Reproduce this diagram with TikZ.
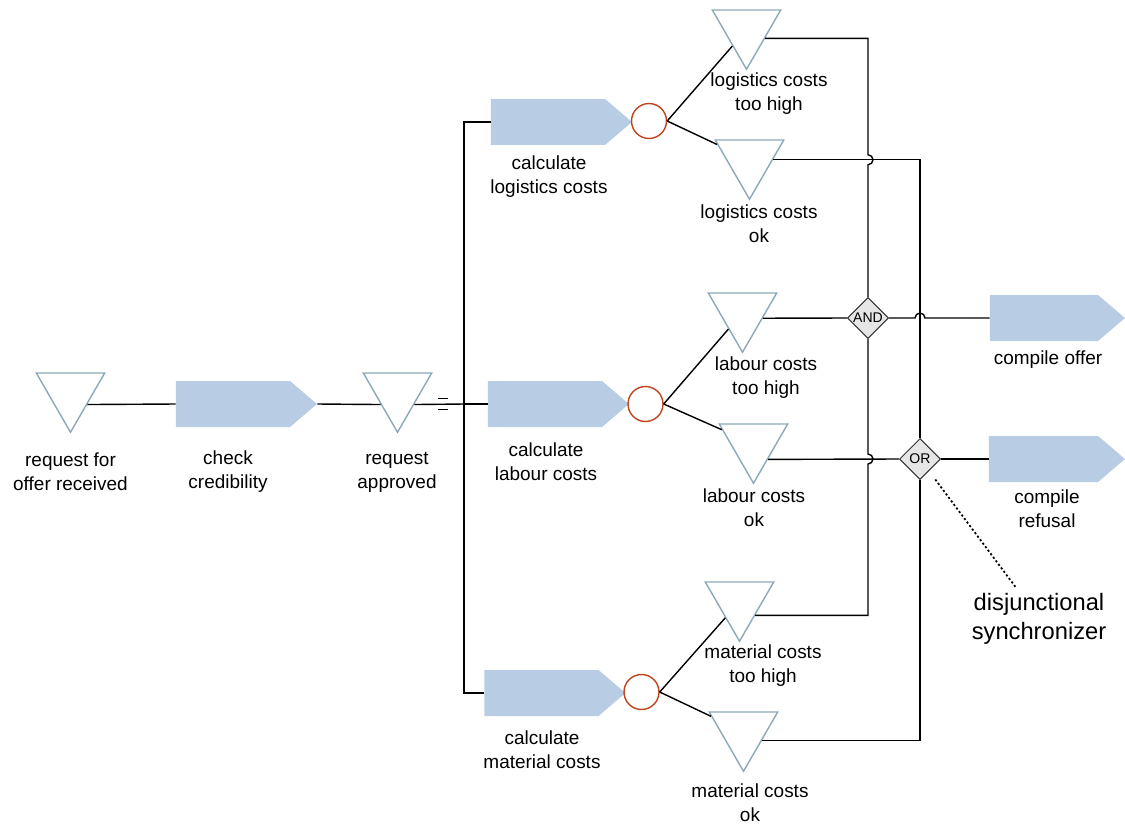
\documentclass[tikz,border=0pt]{standalone}
\usepackage{fontspec}
\setmainfont{Liberation Sans}
\usetikzlibrary{shapes.geometric,shapes.symbols,calc}

\begin{document}
\begin{tikzpicture}[x=0.02cm, y=-0.02cm,
    font=\fontsize{10.8}{13.6}\selectfont,
    event/.style={regular polygon, regular polygon sides=3, shape border rotate=180,
        draw=eventColour, line width=0.8pt, fill=white, minimum size=1.58cm, inner sep=0pt},
    func/.style={signal, signal to=east, signal pointer angle=81, fill=funcColour,
        minimum width=2.82cm, minimum height=0.92cm, inner sep=0pt},
    xor/.style={circle, draw=xorColour, line width=0.8pt, minimum size=0.7cm, inner sep=0pt},
    gate/.style={diamond, draw=gateBorder, fill=gateColour, line width=0.6pt,
        minimum size=0.82cm, inner sep=0pt, font=\fontsize{8}{9}\selectfont},
    lbl/.style={align=center},
    conn/.style={line width=0.8pt}]

    % Define colours
    \definecolor{eventColour}{HTML}{8DA9B8}
    \definecolor{funcColour}{HTML}{B8CCE4}
    \definecolor{xorColour}{HTML}{C0441E}
    \definecolor{gateColour}{HTML}{E6E6E6}
    \definecolor{gateBorder}{HTML}{333333}

    % Page size
    \useasboundingbox (0,0) rectangle (1125,825);

    % Main flow
    \node[event] (reqEvent) at (70.5,392.75) {};
    \node[lbl] at (70.5,472) {request for\\offer received};
    \node[func] (checkFunc) at (233,404) {};
    \node[lbl] at (228,472) {check\\credibility};
    \node[event] (apprEvent) at (397.5,392.75) {};
    \node[lbl] at (397,472) {request\\approved};
    \coordinate (bus) at (464,404);

    % Parallel calculations
    \node[func] (logFunc) at (548,122) {};
    \node[lbl] at (549,177) {calculate\\logistics costs};
    \node[func] (labFunc) at (545,404) {};
    \node[lbl] at (546,461.5) {calculate\\labour costs};
    \node[func] (matFunc) at (541.5,693) {};
    \node[lbl] at (542,749.5) {calculate\\material costs};

    % XOR splits
    \node[xor] (logXor) at (649,121) {};
    \node[xor] (labXor) at (645.5,404) {};
    \node[xor] (matXor) at (641.5,692) {};

    % Result events
    \node[event] (logHigh) at (746.5,29.75) {};
    \node[lbl] at (769,94) {logistics costs\\too high};
    \node[event] (logOk) at (749.5,159.75) {};
    \node[lbl] at (759,224) {logistics costs\\ok};
    \node[event] (labHigh) at (742.5,312.75) {};
    \node[lbl] at (766,378) {labour costs\\too high};
    \node[event] (labOk) at (753.5,443.75) {};
    \node[lbl] at (754,508) {labour costs\\ok};
    \node[event] (matHigh) at (739.5,601.75) {};
    \node[lbl] at (763,666) {material costs\\too high};
    \node[event] (matOk) at (743.5,731.75) {};
    \node[lbl] at (750,803) {material costs\\ok};

    % Connectors
    \node[gate] (andGate) at (868,318) {AND};
    \node[gate] (orGate) at (920,459) {OR};
    \node[func, minimum width=2.7cm] (offerFunc) at (1044,318) {};
    \node[lbl] at (1048,360) {compile offer};
    \node[func, minimum width=2.72cm] (refusalFunc) at (1043.5,459) {};
    \node[lbl] at (1047,509) {compile\\refusal};
    \node[align=center, font=\fontsize{13.5}{16.4}\selectfont] (disjLabel) at (1039,618.5)
        {disjunctional\\synchronizer};

    % Draw flow lines
    \draw[conn] (reqEvent.-35) -- (checkFunc.west);
    \draw[conn] (checkFunc.east) -- (apprEvent.-145);
    \draw[conn] (apprEvent.-35) -- (bus);
    \draw[conn] (logFunc.west) -| (bus) |- (matFunc.west);
    \draw[conn] (bus) -- (labFunc.west);
    % Equal mark next to the split
    \draw[conn] (438,398.5) -- (448,398.5) (438,409.5) -- (448,409.5);

    % Draw split lines
    \foreach \x/\a/\b in {logXor/logHigh/logOk, labXor/labHigh/labOk, matXor/matHigh/matOk} {
        \draw[conn] (\x.east) -- (\a);
        \draw[conn] (\x.east) -- (\b);
    }

    % Draw lines into the AND and OR connectors
    \draw[conn] (logHigh.-25) -| ($(andGate.north |- logOk.east)+(0,-5)$)
        arc[start angle=90, end angle=-90, radius=0.1cm] -- (andGate.north);
    \draw[conn] (logOk.east) -| (orGate.north);
    \draw[conn] (labHigh.-15) -- (andGate.west);
    \draw[conn] (andGate.east) -- ($(orGate.north |- andGate.east)+(-5,0)$)
        arc[start angle=180, end angle=0, radius=0.1cm] -- (offerFunc.west);
    \draw[conn] (labOk.-47) -- (orGate.west);
    \draw[conn] (matHigh.-41) -| ($(andGate.south |- orGate.west)+(0,5)$)
        arc[start angle=-90, end angle=90, radius=0.1cm] -- (andGate.south);
    \draw[conn] (matOk.-25) -| (orGate.south);
    \draw[conn] (orGate.east) -- (refusalFunc.west);

    % Annotation
    \draw[line width=1pt, dash pattern=on 1.2pt off 1.3pt, shorten <=6pt] (orGate) -- (disjLabel);

\end{tikzpicture}
\end{document}
